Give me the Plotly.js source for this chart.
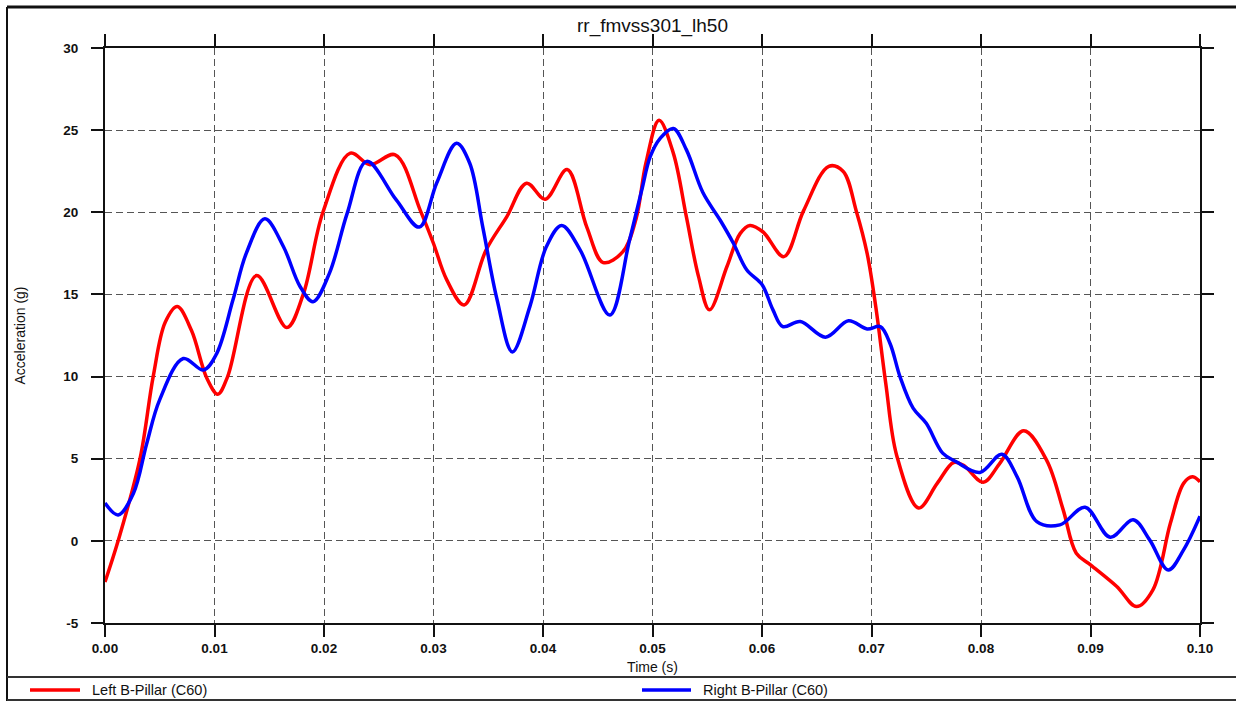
<!DOCTYPE html>
<html>
<head>
<meta charset="utf-8">
<script src="https://cdn.plot.ly/plotly-3.0.1.min.js"></script>
<style>html,body{margin:0;padding:0;background:#fff;}#chart{width:1236px;height:702px;}</style>
</head>
<body>
<div id="chart"></div>
<script>
const chartTitle = "rr_fmvss301_lh50";
const xTitle = "Time (s)";
const yTitle = "Acceleration (g)";
const leftName = "Left B-Pillar (C60)";
const rightName = "Right B-Pillar (C60)";

const leftT = [0, 0.0012, 0.0032, 0.0044, 0.0055, 0.0066, 0.0079, 0.0093, 0.0103, 0.0112, 0.01385, 0.0166, 0.0181, 0.0199, 0.0224, 0.0242, 0.0265, 0.0288, 0.0300, 0.0312, 0.0328, 0.0348, 0.0367, 0.0385, 0.0402, 0.0422, 0.0440, 0.0455, 0.0473, 0.0485, 0.0494, 0.0506, 0.0519, 0.0531, 0.0542, 0.0552, 0.0568, 0.0580, 0.0589, 0.0601, 0.0620, 0.0638, 0.0661, 0.0674, 0.0686, 0.0696, 0.0704, 0.0713, 0.0723, 0.0743, 0.0760, 0.0775, 0.0784, 0.0802, 0.0817, 0.0839, 0.0860, 0.0875, 0.0887, 0.0900, 0.0924, 0.0942, 0.0957, 0.0973, 0.0985, 0.0993, 0.1000];
const leftA = [-2.5, 0, 5, 10, 13.3, 14.26, 12.8, 9.9, 8.93, 10, 16.15, 12.98, 15, 20, 23.6, 22.9, 23.5, 20.1, 18.1, 15.9, 14.36, 17.7, 19.74, 21.77, 20.8, 22.6, 19.1, 16.94, 17.6, 19.6, 23.0, 25.6, 23.6, 19.7, 16.1, 14.06, 16.7, 18.7, 19.2, 18.8, 17.3, 20.1, 22.8, 22.5, 20.1, 17.5, 14.2, 9.6, 5.2, 2.0, 3.5, 4.77, 4.6, 3.57, 4.7, 6.7, 4.9, 1.9, -0.75, -1.46, -2.78, -4.0, -2.98, 1.08, 3.5, 3.9, 3.6];

const rightT = [0, 0.0012, 0.0026, 0.0038, 0.0050, 0.00715, 0.0090, 0.0102, 0.0117, 0.0129, 0.0146, 0.0163, 0.0178, 0.0190, 0.0205, 0.0221, 0.0239, 0.0266, 0.0287, 0.0303, 0.0321, 0.0333, 0.0345, 0.0358, 0.0372, 0.0388, 0.0403, 0.0417, 0.0434, 0.0461, 0.0479, 0.0490, 0.0498, 0.0507, 0.0519, 0.0531, 0.0546, 0.0562, 0.0574, 0.0586, 0.0600, 0.0610, 0.0619, 0.0635, 0.0658, 0.0679, 0.0696, 0.0708, 0.0717, 0.0726, 0.0738, 0.0750, 0.0765, 0.0777, 0.0799, 0.0819, 0.0833, 0.0851, 0.0872, 0.0895, 0.0918, 0.0939, 0.0954, 0.0971, 0.0985, 0.1000];
const rightA = [2.3, 1.58, 2.9, 5.9, 8.6, 11.1, 10.4, 11.4, 14.7, 17.5, 19.6, 17.9, 15.5, 14.56, 16.3, 19.9, 23.1, 20.75, 19.1, 21.8, 24.2, 23.0, 19.1, 14.7, 11.5, 14.26, 17.9, 19.2, 17.7, 13.75, 18.3, 21.3, 23.4, 24.5, 25.1, 23.8, 21.2, 19.5, 18.1, 16.5, 15.6, 14.06, 13.04, 13.35, 12.4, 13.4, 12.9, 13.04, 12.0, 10.0, 8.08, 7.16, 5.34, 4.83, 4.16, 5.27, 3.9, 1.17, 0.97, 2.05, 0.22, 1.28, 0.06, -1.77, -0.55, 1.5];

const xTicks = [0, 0.01, 0.02, 0.03, 0.04, 0.05, 0.06, 0.07, 0.08, 0.09, 0.10];
const yTicks = [-5, 0, 5, 10, 15, 20, 25, 30];

const W = 1236, H = 702;
const PL = 105, PR = 1200, PT = 48, PB = 623;
const px = v => (v - PL) / (PR - PL);
const py = v => (PB - v) / (PB - PT);
const FONT = 'Liberation Sans, Arial, sans-serif';

const traces = [
  {x: leftT, y: leftA, name: leftName, type: 'scatter', mode: 'lines',
   line: {color: '#ff0000', width: 3.5, shape: 'spline', smoothing: 1}, showlegend: false},
  {x: rightT, y: rightA, name: rightName, type: 'scatter', mode: 'lines',
   line: {color: '#0000ff', width: 3.5, shape: 'spline', smoothing: 1}, showlegend: false}
];

const shapes = [
  {type: 'line', xref: 'paper', yref: 'paper', x0: px(7), x1: px(1240), y0: py(7), y1: py(7), line: {color: '#111', width: 3}},
  {type: 'line', xref: 'paper', yref: 'paper', x0: px(7), x1: px(7), y0: py(7), y1: py(701), line: {color: '#111', width: 2}},
  {type: 'line', xref: 'paper', yref: 'paper', x0: px(7), x1: px(1240), y0: py(677), y1: py(677), line: {color: '#333', width: 2}},
  {type: 'line', xref: 'paper', yref: 'paper', x0: px(7), x1: px(1240), y0: py(700), y1: py(700), line: {color: '#333', width: 2}},
  {type: 'line', xref: 'paper', yref: 'paper', x0: px(30), x1: px(80), y0: py(690), y1: py(690), line: {color: '#ff0000', width: 3.5}},
  {type: 'line', xref: 'paper', yref: 'paper', x0: px(642), x1: px(691), y0: py(690), y1: py(690), line: {color: '#0000ff', width: 3.5}}
];

const legendFont = {family: FONT, size: 14.5, color: '#111'};
const annotations = [
  {xref: 'paper', yref: 'paper', x: px(90), y: py(690), xanchor: 'left', yanchor: 'middle', text: leftName, showarrow: false, font: legendFont},
  {xref: 'paper', yref: 'paper', x: px(701), y: py(690), xanchor: 'left', yanchor: 'middle', text: rightName, showarrow: false, font: legendFont}
];

const axisCommon = {
  showline: true, linecolor: '#111', linewidth: 2, mirror: 'ticks',
  ticks: 'outside', ticklen: 12, tickwidth: 2, tickcolor: '#111',
  showgrid: true, gridcolor: '#555', gridwidth: 1, griddash: '7px,4px',
  zeroline: false,
  tickfont: {family: FONT, size: 13.5, color: '#111', weight: 'bold'}
};

const layout = {
  width: W, height: H,
  paper_bgcolor: '#ffffff', plot_bgcolor: '#ffffff',
  margin: {l: PL, r: W - PR, t: PT, b: H - PB, pad: 0},
  title: {text: chartTitle, x: 0.5, xref: 'paper', xanchor: 'center', y: 1 - 25 / H, yref: 'container', yanchor: 'middle',
          font: {family: FONT, size: 19, color: '#111'}},
  xaxis: Object.assign({}, axisCommon, {
    range: [0, 0.1], tickvals: xTicks, ticktext: xTicks.map(v => v.toFixed(2)),
    title: {text: xTitle, standoff: 7, font: {family: FONT, size: 14, color: '#111'}}
  }),
  yaxis: Object.assign({}, axisCommon, {
    range: [-5, 30], tickvals: yTicks, ticktext: yTicks.map(v => String(v)),
    ticklabelstandoff: 10,
    title: {text: yTitle, standoff: 34, font: {family: FONT, size: 14, color: '#111'}}
  }),
  shapes: shapes,
  annotations: annotations,
  showlegend: false
};

Plotly.newPlot('chart', traces, layout, {displayModeBar: false, staticPlot: true});
</script>
</body>
</html>
